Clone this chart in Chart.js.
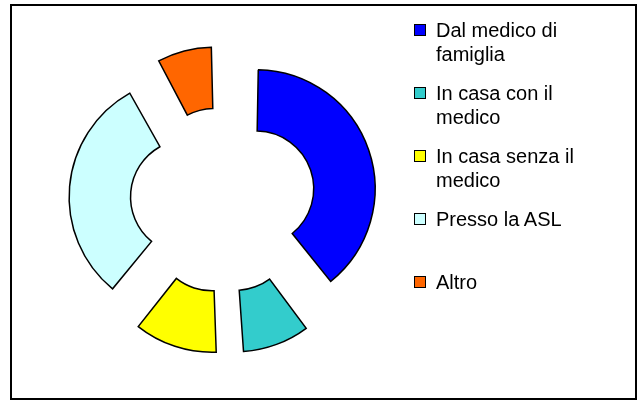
<!DOCTYPE html>
<html>
<head>
<meta charset="utf-8">
<script src="https://cdn.jsdelivr.net/npm/chart.js@4/dist/chart.umd.min.js"></script>
<style>
  html, body { margin: 0; padding: 0; background: #fff; }
  #wrap { position: relative; width: 640px; height: 401px; overflow: hidden; }
  #chart { position: absolute; left: 0; top: 0; }
  #frame { position: absolute; left: 10px; top: 4px; width: 623px; height: 392px; border: 2px solid #000; }
  #legend { position: absolute; left: 0; top: 0; font-family: "Liberation Sans", Arial, sans-serif; font-size: 20px; color: #000; }
  .item { position: absolute; left: 414px; white-space: nowrap; line-height: 24px; }
  .box { position: absolute; left: 0; top: 6px; width: 10px; height: 10px; border: 1.5px solid #000; }
  .txt { position: absolute; left: 22px; top: 0; }
</style>
</head>
<body>
<div id="wrap">
  <canvas id="chart" width="640" height="401"></canvas>
  <div id="frame"></div>
  <div id="legend"></div>
</div>
<script>
// ---- data ----
const categories = [
  ['Dal medico di', 'famiglia'],
  ['In casa con il', 'medico'],
  ['In casa senza il', 'medico'],
  ['Presso la ASL'],
  ['Altro']
];
const values = [39.5, 9.7, 11.7, 31.0, 8.1];
const colors = ['#0000FF', '#33CCCC', '#FFFF00', '#CCFFFF', '#FF6600'];

// Explode distance (px) of each slice; Chart.js translates by offset/4.
const explode = 35;

// Chart.js also grows the radius of exploded arcs (by t*(1-sin(circumference)));
// undo that so each slice is purely translated, like the original.
const pureExplode = {
  id: 'pureExplode',
  afterDatasetUpdate(chart, args) {
    const meta = chart.getDatasetMeta(args.index);
    meta.data.forEach(arc => {
      const fix = 1 - Math.sin(Math.min(Math.PI, arc.circumference || 0));
      const r = explode * fix;
      arc.outerRadius -= r;
      arc.innerRadius -= r;
    });
  }
};

const chart = new Chart(document.getElementById('chart'), {
  type: 'doughnut',
  data: {
    labels: categories.map(c => c.join(' ')),
    datasets: [{
      data: values,
      backgroundColor: colors,
      borderColor: '#000',
      borderWidth: 1.5,
      borderJoinStyle: 'miter',
      offset: explode * 4
    }]
  },
  options: {
    responsive: false,
    animation: false,
    events: [],
    radius: 119,
    cutout: '48.4%',
    layout: { padding: { left: 0, right: 194, top: 0, bottom: 1 } },
    plugins: { legend: { display: false }, tooltip: { enabled: false } }
  },
  plugins: [pureExplode]
});

// ---- legend built from the chart's data ----
const legend = document.getElementById('legend');
categories.forEach((lines, i) => {
  const item = document.createElement('div');
  item.className = 'item';
  item.style.top = (18 + 63 * i) + 'px';
  const box = document.createElement('div');
  box.className = 'box';
  box.style.background = colors[i];
  const txt = document.createElement('div');
  txt.className = 'txt';
  txt.innerHTML = lines.join('<br>');
  item.appendChild(box);
  item.appendChild(txt);
  legend.appendChild(item);
});
</script>
</body>
</html>
